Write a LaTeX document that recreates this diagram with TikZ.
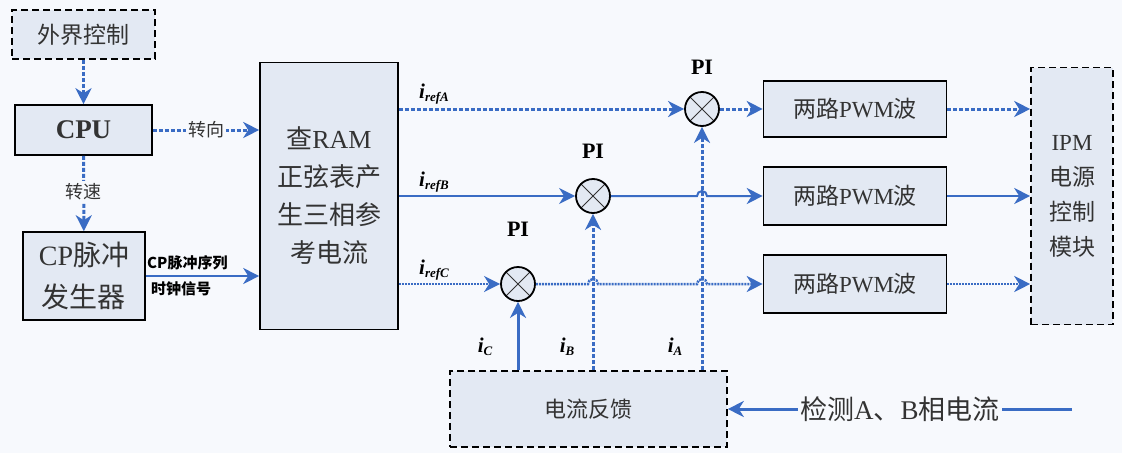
\documentclass[tikz,border=0pt]{standalone}
\usepackage{fontspec}
\setmainfont{Liberation Serif}
\newfontfamily\cjk{Noto Sans CJK SC}
\usetikzlibrary{arrows.meta,calc}
\definecolor{ln}{HTML}{3A6CC4}
\definecolor{bg}{HTML}{F7F9FD}
\definecolor{bx}{HTML}{E3E9F3}
\definecolor{tx}{HTML}{333333}
\newcommand{\cur}[1]{{\bfseries\itshape i\raisebox{-3pt}{\fontsize{13}{13}\selectfont #1}}}
\begin{document}
\begin{tikzpicture}[x=1pt,y=-1pt,
  box/.style={draw=black, fill=bx, line width=1.6pt, inner sep=0pt, text=tx, align=center},
  dbox/.style={box, dash pattern=on 7pt off 4pt},
  tip/.style={-{Stealth[length=16pt,width=16pt,inset=5pt]}},
  conn/.style={draw=ln, line width=2pt, tip},
  dconn/.style={draw=ln, line width=3pt, dash pattern=on 4pt off 2pt, tip},
  fconn/.style={draw=ln, line width=2.5pt, dash pattern=on 2pt off 1pt, tip},
  tconn/.style={draw=ln, line width=3pt, tip},
  sumn/.style={circle, draw=black, fill=bx, line width=1.8pt, minimum size=34pt, inner sep=0pt,
    path picture={\draw[line width=1pt,tx] (path picture bounding box.north west) -- (path picture bounding box.south east)
      (path picture bounding box.north east) -- (path picture bounding box.south west);}},
  pil/.style={font=\bfseries\fontsize{22}{22}\selectfont},
  curl/.style={font=\fontsize{21}{21}\selectfont, inner sep=1pt},
  cjkl/.style={font=\cjk\fontsize{18}{18}\selectfont, fill=bg, text=tx, inner sep=2pt}
]
\useasboundingbox (0,0) rectangle (1122,453);
\fill[bg] (0,0) rectangle (1122,453);

% left column
\node[dbox, minimum width=143pt, minimum height=49pt, font=\cjk\fontsize{23}{23}\selectfont] (ext) at (83.5,34.5) {外界控制};
\node[box, minimum width=137pt, minimum height=50pt, font=\bfseries\fontsize{27}{27}\selectfont] (cpu) at (83.5,130) {CPU};
\node[box, minimum width=122pt, minimum height=88pt, font=\fontsize{28}{42}\selectfont] (cp) at (84,276) {CP{\cjk 脉冲}\\{\cjk 发生器}};

% RAM block
\node[box, minimum width=138pt, minimum height=267pt, font=\fontsize{26}{38}\selectfont] (ram) at (329,196)
  {{\cjk 查}RAM\\{\cjk 正弦表产}\\{\cjk 生三相参}\\{\cjk 考电流}};

% PI nodes
\node[sumn] (cA) at (702,109) {};
\node[sumn] (cB) at (593,196) {};
\node[sumn] (cC) at (518,284) {};
\node[pil] (pA) at (702,67) {PI};
\node[pil] (pB) at (593,151) {PI};
\node[pil] (pC) at (518,229) {PI};

% PWM boxes
\node[box, minimum width=183pt, minimum height=56pt, font=\fontsize{23}{23}\selectfont] (w1) at (855,109) {{\cjk 两路}PWM{\cjk 波}};
\node[box, minimum width=183pt, minimum height=58pt, font=\fontsize{23}{23}\selectfont] (w2) at (855,196) {{\cjk 两路}PWM{\cjk 波}};
\node[box, minimum width=183pt, minimum height=58pt, font=\fontsize{23}{23}\selectfont] (w3) at (855,284) {{\cjk 两路}PWM{\cjk 波}};

% IPM
\node[dbox, minimum width=82pt, minimum height=257pt, font=\fontsize{23}{35}\selectfont] (ipm) at (1072,196)
  {IPM\\{\cjk 电源}\\{\cjk 控制}\\{\cjk 模块}};

% feedback
\node[dbox, minimum width=277pt, minimum height=76pt, font=\cjk\fontsize{22}{22}\selectfont] (fb) at (588.5,409) {电流反馈};
\coordinate (det) at (1072,409);

% labels
\node[curl] (lA) at (434,94) {\cur{refA}};
\node[curl] (lB) at (434,182) {\cur{refB}};
\node[curl] (lC) at (434,270) {\cur{refC}};
\node[curl] (fC) at (485,347) {\cur{C}};
\node[curl] (fB) at (567,347) {\cur{B}};
\node[curl] (fA) at (675,347) {\cur{A}};

% connectors left
\draw[dconn] (ext) -- (cpu);
\draw[dconn] (cpu) -- (cp) node[cjkl, midway, yshift=2pt] (zs) {转速};
\draw[dconn] (cpu.east) -- (cpu.east -| ram.west) node[cjkl, midway] (zx) {转向};
\draw[conn] (cp.east) -- (cp.east -| ram.west);
\node[font=\cjk\bfseries\fontsize{15}{15}\selectfont, anchor=south west, inner sep=1pt] (cpt) at (146,271) {CP{\cjk 脉冲序列}};
\node[font=\cjk\bfseries\fontsize{15}{15}\selectfont, anchor=north west, inner sep=1pt] (cpb) at (150,280) {{\cjk 时钟信号}};

% rows
\draw[dconn] (cA -| ram.east) -- (cA.west);
\draw[dconn] (cA.east) -- (w1.west);
\draw[conn] (cB -| ram.east) -- (cB.west);
\draw[conn] (cB.east) -- (697,196) arc (180:360:5) -- (w2.west);
\draw[fconn] (cC -| ram.east) -- (cC.west);
\draw[fconn] (cC.east) -- (588,284) arc (180:360:5) -- (697,284) arc (180:360:5) -- (w3.west);

% to IPM
\draw[dconn] (w1.east) -- (w1.east -| ipm.west);
\draw[conn] (w2.east) -- (w2.east -| ipm.west);
\draw[fconn] (w3.east) -- (w3.east -| ipm.west);

% feedback verticals
\draw[tconn] (fb.north -| cC) -- (cC.south);
\draw[dconn] (fb.north -| cB) -- (cB.south);
\draw[dconn] (fb.north -| cA) -- (cA.south);

% detection input
\draw[tconn] (det) -- (fb.east |- det) node[midway, fill=bg, text=tx, font=\fontsize{27}{27}\selectfont, inner sep=2pt] (dl) {{\cjk 检测}A{\cjk 、}B{\cjk 相电流}};
\end{tikzpicture}
\end{document}
